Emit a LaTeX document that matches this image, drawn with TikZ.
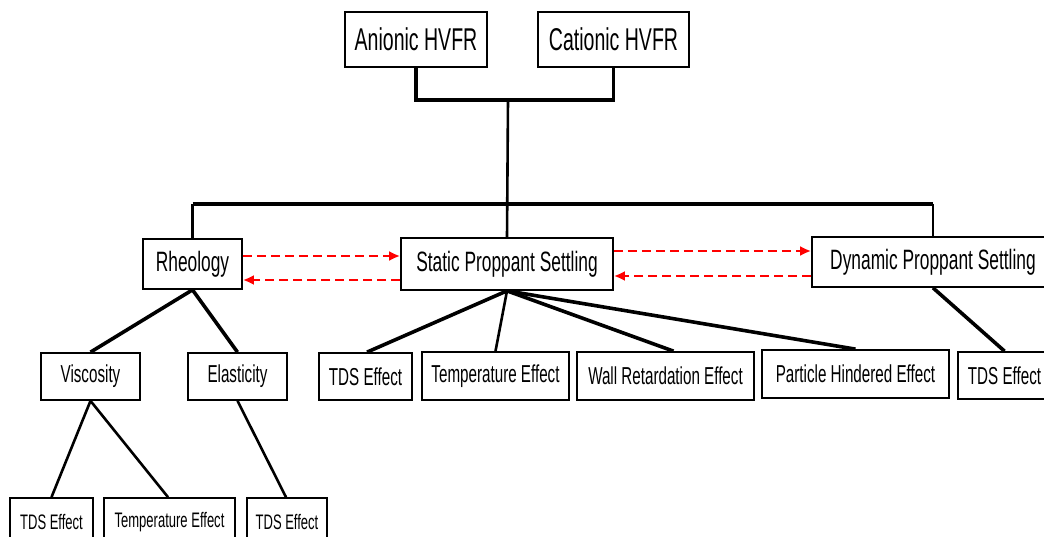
\documentclass[tikz,border=0pt]{standalone}
\usepackage{fontspec}
\setmainfont[FakeStretch=0.62]{Liberation Sans}
\usetikzlibrary{arrows.meta}
\begin{document}
\begin{tikzpicture}[x=1pt,y=-1pt,
  box/.style={draw=black,line width=1.7pt,fill=white,inner sep=0pt,anchor=center},
  lvlone/.style={box,font=\fontsize{31.5}{34}\selectfont},
  lvltwo/.style={box,font=\fontsize{28}{30}\selectfont},
  lvlthree/.style={box,font=\fontsize{24.5}{26}\selectfont},
  lvlfour/.style={box,font=\fontsize{21}{23}\selectfont},
  thickline/.style={line width=3.6pt},
  midline/.style={line width=2.6pt},
  thinline/.style={line width=2.3pt},
  redarrow/.style={red,line width=2.5pt,dash pattern=on 9pt off 5pt,-{Latex[length=11pt,width=10pt]}}
]
\useasboundingbox[fill=white] (0,0) rectangle (1044,537);
% level 1
\node[lvlone,minimum width=142pt,minimum height=55pt] (anionic) at (416,39.5) {Anionic HVFR};
\node[lvlone,minimum width=151pt,minimum height=55pt] (cationic) at (613.5,39.5) {Cationic HVFR};
% level 2
\node[lvltwo,minimum width=99pt,minimum height=50pt] (rheology) at (192.5,264) {Rheology};
\node[lvltwo,minimum width=212pt,minimum height=52pt] (static) at (507,264) {Static Proppant Settling};
\node[lvltwo,minimum width=242pt,minimum height=50pt] (dynamic) at (933,262) {Dynamic Proppant Settling};
% level 3
\node[lvlthree,minimum width=99pt,minimum height=47pt] (viscosity) at (90.5,376.5) {Viscosity};
\node[lvlthree,minimum width=99pt,minimum height=47pt] (elasticity) at (237.5,376.5) {Elasticity};
\node[lvlthree,minimum width=93pt,minimum height=47pt] (stds) at (365.5,376.5) {TDS Effect};
\node[lvlthree,minimum width=147pt,minimum height=48pt] (stemp) at (495.5,376) {Temperature Effect};
\node[lvlthree,minimum width=177pt,minimum height=48pt] (wall) at (665.5,376) {Wall Retardation Effect};
\node[lvlthree,minimum width=187pt,minimum height=48pt] (particle) at (855.5,374) {Particle Hindered Effect};
\node[lvlthree,minimum width=93pt,minimum height=47pt] (dtds) at (1004.5,375.5) {TDS Effect};
% level 4
\node[lvlfour,minimum width=83pt,minimum height=48pt] (vtds) at (51.5,522) {TDS Effect};
\node[lvlfour,minimum width=131pt,minimum height=48pt] (vtemp) at (169.5,522) {Temperature Effect};
\node[lvlfour,minimum width=80pt,minimum height=48pt] (etds) at (287,522) {TDS Effect};
% top bracket
\coordinate (join) at (508,100);
\coordinate (bar) at (508,204);
\draw[thickline] (anionic.south) -- (anionic.south |- join) -- (cationic.south |- join) -- (cationic.south);
\draw[midline] (join) -- (static.north);
\draw[line width=4.5pt] (rheology.north |- bar) -- (dynamic.north |- bar);
\draw[thinline] (rheology.north |- bar) -- (rheology.north);
\draw[thinline] (dynamic.north |- bar) -- (dynamic.north);
% red dashed arrows
\draw[redarrow] ([yshift=8pt]rheology.east) -- ([yshift=8pt]rheology.east -| static.west);
\draw[redarrow] ([yshift=-16pt]rheology.east -| static.west) -- ([yshift=-16pt]rheology.east);
\draw[redarrow] ([yshift=13pt]static.east) -- ([yshift=13pt]static.east -| dynamic.west);
\draw[redarrow] ([yshift=-12pt]static.east -| dynamic.west) -- ([yshift=-12pt]static.east);
% tree connectors
\draw[thickline] (rheology.south) -- (viscosity.north);
\draw[thickline] (rheology.south) -- (elasticity.north);
\draw[thickline] (static.south) -- ([xshift=1.5pt]stds.north);
\draw[midline] (static.south) -- (stemp.north);
\draw[thickline] (static.south) -- ([xshift=8pt]wall.north);
\draw[thickline] (static.south) -- (particle.north);
\draw[thickline] (dynamic.south) -- (dtds.north);
\draw[midline] (viscosity.south) -- (vtds.north);
\draw[midline] (viscosity.south) -- ([xshift=-1.5pt]vtemp.north);
\draw[midline] (elasticity.south) -- ([xshift=-1pt]etds.north);
\end{tikzpicture}
\end{document}
